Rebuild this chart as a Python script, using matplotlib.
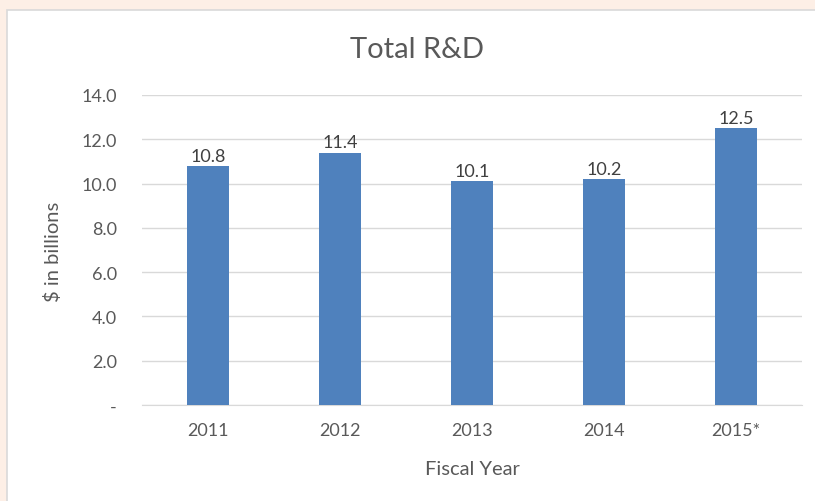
import matplotlib.pyplot as plt
from matplotlib.patches import Rectangle

years = ['2011', '2012', '2013', '2014', '2015*']
rd_spend = [10.8, 11.4, 10.1, 10.2, 12.5]
y_ticks = [0, 2, 4, 6, 8, 10, 12, 14]

plt.rcParams['font.family'] = ['Lato', 'DejaVu Sans']
text_color = '#595959'
W, H = 815, 502

fig = plt.figure(figsize=(8.15, 5.02), dpi=100)
fig.patch.set_facecolor('#FDEFE6')
# white chart panel behind the axes
panel = Rectangle((7 / W, -0.01), 1.0, 1 - 11 / H + 0.01, transform=fig.transFigure,
                  facecolor='white', edgecolor='#D9D9D9', linewidth=1.2, zorder=-5)
fig.patches.append(panel)

ax = fig.add_axes([142 / W, 1 - 406 / H, 660 / W, 310 / H])
ax.set_facecolor('none')
x = range(len(years))
bars = ax.bar(x, rd_spend, width=0.32, color='#4F81BD', zorder=3)
for b, v in zip(bars, rd_spend):
    ax.text(b.get_x() + b.get_width() / 2, v + 0.1, f'{v:.1f}', ha='center', va='bottom',
            fontsize=13, color='#404040')

ax.set_xlim(-0.5, len(years) - 0.5)
ax.set_ylim(0, 14)
ax.set_yticks(y_ticks)
ax.set_yticklabels(['-' if t == 0 else f'{t:.1f}' for t in y_ticks])
ax.set_xticks(list(x))
ax.set_xticklabels(years)
ax.grid(axis='y', color='#D9D9D9', linewidth=1, zorder=0)
for s in ['top', 'right', 'left']:
    ax.spines[s].set_visible(False)
ax.spines['bottom'].set_color('#D9D9D9')
ax.tick_params(length=0, labelsize=13, labelcolor=text_color)
ax.tick_params(axis='y', pad=18)
ax.tick_params(axis='x', pad=12)

fig.text(417 / W, 1 - 58 / H, 'Total R&D', fontsize=21, color=text_color,
         ha='center', va='baseline')
fig.text(472 / W, 1 - 475 / H, 'Fiscal Year', fontsize=14.5, color=text_color,
         ha='center', va='baseline')
fig.text(53 / W, 1 - 252 / H, '$ in billions', fontsize=14.5, color=text_color,
         ha='center', va='center', rotation=90)

fig.savefig('out.png', dpi=100, facecolor=fig.get_facecolor())
